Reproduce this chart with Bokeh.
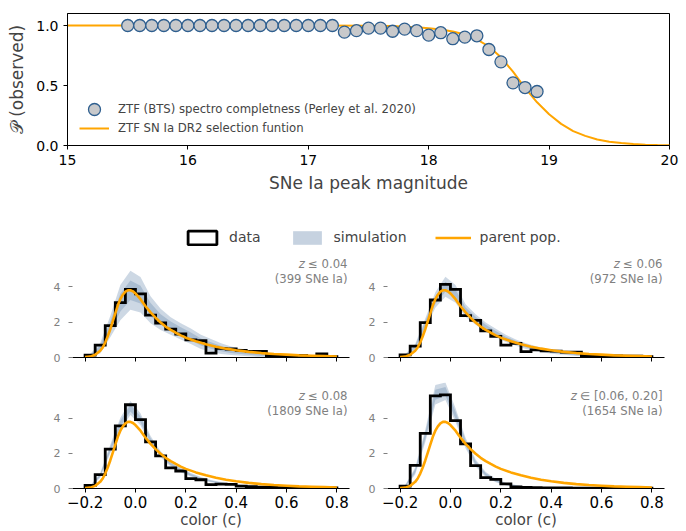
from bokeh.plotting import figure
from bokeh.models import Range1d, FixedTicker, Legend, LegendItem
from bokeh.layouts import column, row
from bokeh.embed import file_html
from bokeh.resources import INLINE
from bokeh.core.properties import value

FONT = "DejaVu Sans"
ORANGE = "#ffa500"
BAND = "#5b7fa6"
GREY = "#808080"
NAN = float("nan")

# ---------------- top panel: completeness ----------------
bts_mag = [15.5, 15.6, 15.7, 15.8, 15.9, 16.0, 16.1, 16.2, 16.3, 16.4, 16.5, 16.6,
           16.7, 16.8, 16.9, 17.0, 17.1, 17.2, 17.3, 17.4, 17.5, 17.6, 17.7, 17.8,
           17.9, 18.0, 18.1, 18.2, 18.3, 18.4, 18.5, 18.6, 18.7, 18.8, 18.9]
bts_frac = [1.0, 1.0, 1.0, 1.0, 1.0, 1.0, 1.0, 1.0, 1.0, 1.0, 1.0, 1.0,
            1.0, 1.0, 1.0, 1.0, 1.0, 1.0, 0.945, 0.957, 0.978, 0.978, 0.952, 0.970,
            0.957, 0.920, 0.940, 0.890, 0.903, 0.914, 0.800, 0.697, 0.522, 0.483, 0.450]
sel_mag = [15.0, 16.0, 17.0, 17.5, 17.7, 17.8, 17.9, 18.0, 18.1, 18.2, 18.3, 18.4,
           18.5, 18.6, 18.7, 18.8, 18.9, 19.0, 19.1, 19.2, 19.3, 19.4, 19.5, 19.6,
           19.7, 19.8, 19.9, 20.0]
sel_prob = [1.0, 1.0, 1.0, 0.998, 0.995, 0.990, 0.985, 0.978, 0.967, 0.950, 0.925, 0.885,
            0.825, 0.735, 0.615, 0.480, 0.360, 0.260, 0.180, 0.120, 0.080, 0.050, 0.032, 0.020,
            0.012, 0.007, 0.004, 0.002]
mag_ticks = [15, 16, 17, 18, 19, 20]
prob_ticks = [0.0, 0.5, 1.0]
prob_tick_labels = ["0.0", "0.5", "1.0"]

# ---------------- color histograms ----------------
c_edges = [-0.20, -0.16, -0.12, -0.08, -0.04, 0.00, 0.04, 0.08, 0.12, 0.16, 0.20, 0.24, 0.28,
           0.32, 0.36, 0.40, 0.44, 0.48, 0.52, 0.56, 0.60, 0.64, 0.68, 0.72, 0.76, 0.80]
c_ticks = [-0.2, 0.0, 0.2, 0.4, 0.6, 0.8]
c_tick_labels = ["\u22120.2", "0.0", "0.2", "0.4", "0.6", "0.8"]
density_ticks = [0, 2, 4]

hist_z004 = [0.13, 0.70, 1.80, 3.10, 3.85, 3.60, 2.40, 1.95, 1.60, 1.33, 1.00, 0.95, 0.25,
             0.52, 0.48, 0.40, 0.35, 0.35, 0.10, 0.08, 0.05, 0.12, 0.05, 0.20, 0.05]
hist_z006 = [0.15, 0.64, 1.97, 3.25, 4.13, 3.85, 2.37, 2.10, 1.50, 1.20, 0.70, 0.80, 0.33,
             0.43, 0.38, 0.36, 0.30, 0.30, 0.11, 0.10, 0.09, 0.09, 0.08, 0.08, 0.05]
hist_z008 = [0.17, 0.79, 2.25, 3.58, 4.78, 3.93, 2.66, 1.86, 1.18, 1.00, 0.56, 0.50, 0.22,
             0.25, 0.24, 0.13, 0.10, 0.07, 0.06, 0.05, 0.04, 0.04, 0.03, 0.03, 0.03]
hist_zhigh = [0.13, 1.32, 3.15, 5.29, 5.34, 3.87, 2.55, 1.30, 0.62, 0.52, 0.26, 0.09, 0.06,
              0.05, 0.04, 0.03, 0.03, 0.02, 0.02, 0.02, 0.02, 0.02, 0.02, 0.02, 0.02]

sim_mean_z004 = [0.08, 0.52, 1.75, 3.10, 3.80, 3.55, 2.70, 2.15, 1.78, 1.48, 1.20, 0.88, 0.68,
                 0.50, 0.38, 0.30, 0.22, 0.16, 0.12, 0.10, 0.08, 0.07, 0.06, 0.05, 0.04]
sim_sig_z004 = [0.06, 0.15, 0.30, 0.50, 0.55, 0.50, 0.38, 0.30, 0.25, 0.23, 0.22, 0.20, 0.18,
                0.15, 0.12, 0.10, 0.08, 0.07, 0.05, 0.05, 0.04, 0.04, 0.03, 0.03, 0.03]
sim_mean_z006 = [0.10, 0.60, 1.90, 3.25, 4.00, 3.60, 2.65, 2.15, 1.72, 1.38, 1.08, 0.84, 0.64,
                 0.49, 0.37, 0.29, 0.22, 0.17, 0.13, 0.10, 0.08, 0.07, 0.06, 0.05, 0.04]
sim_sig_z006 = [0.04, 0.08, 0.15, 0.22, 0.28, 0.25, 0.18, 0.15, 0.13, 0.12, 0.10, 0.09, 0.08,
                0.07, 0.06, 0.05, 0.04, 0.04, 0.03, 0.03, 0.03, 0.02, 0.02, 0.02, 0.02]
sim_mean_z008 = [0.10, 0.75, 2.25, 3.70, 4.60, 3.95, 2.75, 1.95, 1.40, 1.05, 0.78, 0.57, 0.42,
                 0.31, 0.23, 0.17, 0.13, 0.10, 0.08, 0.06, 0.05, 0.04, 0.03, 0.03, 0.02]
sim_sig_z008 = [0.03, 0.07, 0.12, 0.17, 0.20, 0.17, 0.12, 0.09, 0.07, 0.06, 0.05, 0.04, 0.03,
                0.03, 0.02, 0.02, 0.02, 0.02, 0.01, 0.01, 0.01, 0.01, 0.01, 0.01, 0.01]
sim_mean_zhigh = [0.12, 1.00, 3.00, 5.35, 5.55, 4.20, 2.60, 1.45, 0.80, 0.45, 0.25, 0.14, 0.08,
                  0.05, 0.03, 0.02, 0.02, 0.01, 0.01, 0.01, 0.01, 0.01, 0.01, 0.01, 0.01]
sim_sig_zhigh = [0.04, 0.10, 0.18, 0.28, 0.25, 0.20, 0.15, 0.10, 0.07, 0.05, 0.04, 0.03, 0.02,
                 0.02, 0.01, 0.01, 0.01, 0.01, 0.01, 0.01, 0.01, 0.01, 0.01, 0.01, 0.01]

parent_c = [-0.20, -0.18, -0.16, -0.14, -0.13, -0.12, -0.11, -0.10, -0.09, -0.08, -0.07, -0.06,
            -0.05, -0.04, -0.03, -0.02, -0.01, 0.00, 0.02, 0.04, 0.06, 0.08, 0.10, 0.12, 0.14,
            0.16, 0.18, 0.20, 0.24, 0.28, 0.32, 0.36, 0.40, 0.45, 0.50, 0.55, 0.60, 0.65, 0.70,
            0.75, 0.80]
parent_pdf = [0.02, 0.05, 0.15, 0.38, 0.57, 0.85, 1.20, 1.60, 2.05, 2.50, 2.95, 3.30,
              3.55, 3.72, 3.80, 3.80, 3.74, 3.62, 3.30, 2.90, 2.55, 2.25, 1.98, 1.75, 1.56,
              1.40, 1.25, 1.12, 0.92, 0.75, 0.61, 0.50, 0.41, 0.32, 0.25, 0.20, 0.16, 0.12, 0.10,
              0.08, 0.06]

z_symbol = ["\u2264 0.04", "\u2264 0.06", "\u2264 0.08", "\u2208 [0.06, 0.20]"]
n_sne = [399, 972, 1809, 1654]

# ---------------- helpers ----------------
ADV = {"0": .636, "1": .636, "2": .636, "3": .636, "4": .636, "5": .636, "6": .636,
       "7": .636, "8": .636, "9": .636, ".": .318, ",": .318, " ": .318, "[": .390,
       "]": .390, "\u2264": .838, "\u2208": .871}


def text_width(s, size):
    return sum(ADV.get(ch, .6) for ch in s) * size


def style_axis_fonts(ax):
    ax.major_label_text_font = FONT
    ax.axis_label_text_font = FONT
    ax.axis_label_text_font_style = "normal"


# ---------------- top figure ----------------
top = figure(width=686, height=200, output_backend="svg", toolbar_location=None,
             x_range=Range1d(15, 20), y_range=Range1d(0, 1.1),
             min_border_left=67, min_border_right=17, min_border_top=13, min_border_bottom=55)
top.grid.visible = False
top.outline_line_color = "black"
top.outline_line_width = 1
for ax in (top.xaxis, top.yaxis):
    style_axis_fonts(ax)
    ax.major_tick_out = 4
    ax.major_tick_in = 0
    ax.minor_tick_line_color = None
    ax.major_label_text_font_size = "14px"
    ax.axis_label_text_font_size = "17px"
    ax.major_label_text_color = "black"
top.xaxis.ticker = FixedTicker(ticks=mag_ticks)
top.yaxis.ticker = FixedTicker(ticks=prob_ticks)
top.yaxis.major_label_overrides = dict(zip(prob_ticks, prob_tick_labels))
top.xaxis.axis_label = "SNe Ia peak magnitude"
top.yaxis.axis_label = "\U0001D4AB (observed)"
top.xaxis.axis_label_standoff = 5
top.yaxis.axis_label_standoff = 6

r_sel = top.line(sel_mag, sel_prob, color=ORANGE, line_width=2)
r_pts = top.scatter(bts_mag, bts_frac, size=12, fill_color="#c8c9cb",
                    line_color="#2f5f8f", line_width=1.3)

leg_kw = dict(glyph_width=30, label_height=20, padding=0, label_standoff=9,
              border_line_color=None, background_fill_alpha=0,
              label_text_font=FONT, label_text_font_size="11.7px")
leg_pts = Legend(items=[LegendItem(label="ZTF (BTS) spectro completness (Perley et al. 2020)",
                                   renderers=[r_pts])],
                 location=(12, 21), glyph_height=30, **leg_kw)
leg_sel = Legend(items=[LegendItem(label="ZTF SN Ia DR2 selection funtion", renderers=[r_sel])],
                 location=(12, 7), glyph_height=20, **leg_kw)
top.add_layout(leg_pts)
top.add_layout(leg_sel)

# ---------------- legend strip ----------------
lf = figure(width=686, height=50, output_backend="svg", toolbar_location=None,
            x_range=Range1d(0, 1), y_range=Range1d(0, 1),
            x_axis_location=None, y_axis_location=None,
            min_border_left=67, min_border_right=17, min_border_top=0, min_border_bottom=0)
lf.grid.visible = False
lf.outline_line_color = None
# legend proxies (NaN coordinates: nothing is drawn in the strip itself)
r_d = lf.quad(left=[NAN], right=[NAN], top=[NAN], bottom=[NAN], fill_color="white",
              line_color="black", line_width=2.8)
r_s = lf.quad(left=[NAN], right=[NAN], top=[NAN], bottom=[NAN], fill_color=BAND,
              fill_alpha=0.35, line_color=None)
r_p = lf.line(x=[NAN, NAN], y=[NAN, NAN], color=ORANGE, line_width=2.6)
leg_b = Legend(items=[LegendItem(label="data", renderers=[r_d]),
                      LegendItem(label="simulation", renderers=[r_s]),
                      LegendItem(label="parent pop.", renderers=[r_p])],
               orientation="horizontal", location=(117, 3), glyph_width=36, glyph_height=17,
               label_height=20, label_standoff=9, spacing=28, padding=0,
               border_line_color=None, background_fill_alpha=0,
               label_text_font=FONT, label_text_font_size="14px")
lf.add_layout(leg_b)

# ---------------- color panels ----------------
XR = (-0.25, 0.85)
YR = (0.0, 6.05)
centers = [(c_edges[i] + c_edges[i + 1]) / 2 for i in range(len(c_edges) - 1)]


def color_panel(k, hist, mean, sig, width, height, bl, br, bt, bb, labels):
    p = figure(width=width, height=height, output_backend="svg", toolbar_location=None,
               x_range=Range1d(*XR), y_range=Range1d(*YR),
               min_border_left=bl, min_border_right=br, min_border_top=bt, min_border_bottom=bb)
    p.grid.visible = False
    p.outline_line_color = None
    xa, ya = p.xaxis[0], p.yaxis[0]
    style_axis_fonts(xa)
    style_axis_fonts(ya)
    xa.ticker = FixedTicker(ticks=c_ticks)
    xa.axis_line_color = "black"
    xa.axis_line_width = 1.2
    xa.major_tick_out = 4
    xa.major_tick_in = 0
    xa.major_tick_line_color = "black"
    xa.minor_tick_line_color = None
    if labels:
        xa.major_label_overrides = dict(zip(c_ticks, c_tick_labels))
        xa.major_label_text_font_size = "15px"
        xa.major_label_text_color = "black"
        xa.axis_label = "color (c)"
        xa.axis_label_text_font_size = "15px"
        xa.axis_label_standoff = 0
        xa.major_label_standoff = 3
    else:
        xa.major_label_overrides = {t: "" for t in c_ticks}
        xa.major_label_standoff = 0
    ya.ticker = FixedTicker(ticks=density_ticks)
    ya.axis_line_color = None
    ya.major_tick_line_color = GREY
    ya.major_tick_out = 4
    ya.major_tick_in = 0
    ya.minor_tick_line_color = None
    ya.major_label_text_color = GREY
    ya.major_label_text_font_size = "11px"
    ya.major_label_standoff = 8

    lo2 = [max(m - 2 * s, 0) for m, s in zip(mean, sig)]
    hi2 = [m + 2 * s for m, s in zip(mean, sig)]
    lo1 = [max(m - s, 0) for m, s in zip(mean, sig)]
    hi1 = [m + s for m, s in zip(mean, sig)]
    p.varea(x=centers, y1=lo2, y2=hi2, fill_color=BAND, fill_alpha=0.3)
    p.varea(x=centers, y1=lo1, y2=hi1, fill_color=BAND, fill_alpha=0.3)

    xs, ys = [c_edges[0]], [0.0]
    for i, h in enumerate(hist):
        xs += [c_edges[i], c_edges[i + 1]]
        ys += [h, h]
    xs.append(c_edges[-1])
    ys.append(0.0)
    p.line(xs, ys, color="black", line_width=2.8, line_join="miter")
    p.line(parent_c, parent_pdf, color=ORANGE, line_width=2.6)

    fs = 11.7
    ppu = (height - bt - bb) / (YR[1] - YR[0])
    y1 = YR[1] - 13.5 / ppu
    y2 = YR[1] - 28.5 / ppu
    sym = z_symbol[k]
    p.text(x=[XR[1]], y=[y1], text=[sym], text_align="right", text_baseline="middle",
           x_offset=-2, text_font=value(FONT), text_font_size=f"{fs}px", text_color=GREY)
    p.text(x=[XR[1]], y=[y1], text=["z"], text_align="right", text_baseline="middle",
           x_offset=-2 - text_width(sym, fs) - 3, text_font=value(FONT),
           text_font_size=f"{fs}px", text_font_style="italic", text_color=GREY)
    p.text(x=[XR[1]], y=[y2], text=[f"({n_sne[k]} SNe Ia)"], text_align="right",
           text_baseline="middle", x_offset=-2, text_font=value(FONT),
           text_font_size=f"{fs}px", text_color=GREY)
    return p


p1 = color_panel(0, hist_z004, sim_mean_z004, sim_sig_z004, 360, 130, 72, 11, 0, 23, False)
p2 = color_panel(1, hist_z006, sim_mean_z006, sim_sig_z006, 326, 130, 27, 22, 0, 23, False)
p3 = color_panel(2, hist_z008, sim_mean_z008, sim_sig_z008, 360, 151, 72, 11, 2, 43, True)
p4 = color_panel(3, hist_zhigh, sim_mean_zhigh, sim_sig_zhigh, 326, 151, 27, 22, 2, 43, True)

layout = column(top, lf, row(p1, p2), row(p3, p4))
open("out.html", "w").write(file_html(layout, INLINE))
